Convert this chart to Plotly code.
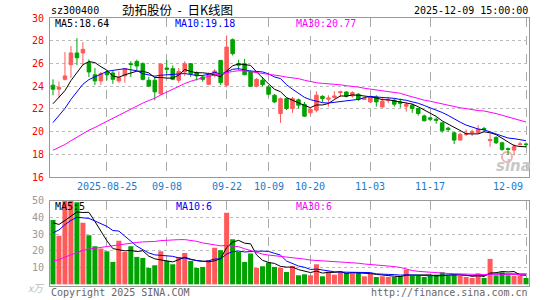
import pandas as pd
import plotly.graph_objects as go

# ---------------- data ----------------
holiday = pd.date_range("2025-10-01", "2025-10-08")
dates = [d.strftime("%Y-%m-%d") for d in pd.bdate_range("2025-08-12", "2025-12-09") if d not in holiday]

open_ = [24.08, 23.73, 24.6, 25.89, 26.92, 26.92, 26.07, 25.0, 24.46, 25.25,
         25.16, 24.46, 24.9, 25.98, 26.18, 25.98, 24.52, 24.52, 23.32, 25.6,
         25.54, 24.52, 25.25, 25.98, 25.19, 24.81, 24.16, 25.0, 26.27, 24.08,
         28.09, 25.98, 25.98, 25.25, 23.99, 24.52, 23.93, 23.2, 21.59, 22.9,
         22.03, 22.8, 22.4, 21.65, 21.88, 23.1, 22.85, 23.0, 23.43, 23.49,
         23.14, 23.29, 22.82, 22.61, 23.05, 22.17, 22.73, 22.76, 22.6, 22.23,
         22.32, 22.03, 21.38, 21.21, 21.09, 20.77, 20.3, 19.89, 19.25, 19.75,
         19.9, 19.92, 20.27, 19.2, 19.48, 19.01, 18.5, 18.37, 18.87, 18.9]
close = [23.73, 23.9, 24.9, 26.92, 26.5, 27.24, 25.25, 24.46, 25.1, 25.0,
         24.6, 24.75, 25.55, 25.9, 25.77, 24.6, 24.0, 23.5, 25.95, 25.48,
         24.6, 25.3, 25.98, 25.1, 24.9, 24.6, 25.0, 25.33, 24.31, 27.44,
         26.86, 25.85, 25.0, 23.99, 24.6, 24.13, 23.29, 22.61, 22.9, 22.03,
         22.9, 22.32, 21.36, 21.94, 23.2, 22.9, 22.95, 23.14, 23.5, 23.11,
         23.43, 22.82, 22.9, 23.05, 22.61, 22.67, 22.76, 22.41, 22.5, 22.4,
         22.03, 21.59, 20.95, 21.09, 21.0, 20.07, 20.18, 19.25, 19.75, 19.8,
         19.98, 20.2, 20.18, 19.3, 19.01, 18.43, 18.43, 18.66, 18.9, 18.87]
high = [24.6, 24.4, 27.0, 27.53, 28.23, 27.88, 26.35, 25.6, 25.25, 25.4,
        25.4, 25.3, 25.6, 26.2, 26.33, 26.1, 24.81, 24.81, 26.0, 26.3,
        25.83, 25.6, 26.2, 26.0, 25.3, 24.95, 25.2, 25.5, 26.27, 28.47,
        28.2, 26.33, 26.4, 25.4, 24.7, 24.8, 24.1, 23.3, 23.0, 23.0,
        23.05, 22.9, 22.6, 22.1, 23.55, 23.2, 23.2, 23.55, 23.6, 23.55,
        23.55, 23.4, 23.0, 23.15, 23.2, 23.05, 23.05, 22.9, 22.9, 22.6,
        22.47, 22.1, 21.5, 21.3, 21.24, 20.8, 20.42, 19.95, 19.9, 20.18,
        20.18, 20.56, 20.42, 19.83, 19.6, 19.1, 18.6, 18.9, 19.1, 19.04]
low = [23.2, 22.97, 24.5, 24.72, 25.84, 25.84, 24.8, 24.1, 24.1, 24.5,
       24.2, 24.3, 24.3, 24.8, 25.4, 24.5, 23.93, 22.76, 23.2, 25.1,
       24.52, 24.3, 24.9, 24.81, 24.5, 24.4, 24.1, 24.8, 24.1, 23.9,
       26.7, 25.4, 24.96, 23.93, 23.9, 23.99, 23.2, 22.5, 20.77, 21.9,
       21.65, 22.03, 21.3, 21.5, 21.7, 22.6, 22.2, 22.9, 23.05, 23.0,
       23.0, 22.7, 22.8, 22.5, 22.2, 22.1, 22.5, 22.2, 22.1, 21.75,
       21.65, 21.4, 20.9, 20.9, 20.7, 19.9, 19.98, 18.9, 19.2, 19.6,
       19.6, 19.8, 19.98, 18.66, 18.9, 18.3, 17.93, 17.9, 18.8, 18.6]
volume = [38.4, 29.0, 50.0, 50.0, 49.0, 36.8, 29.4, 22.8, 21.4, 19.8,
          13.4, 26.0, 19.4, 22.8, 16.4, 15.8, 9.8, 11.4, 19.8, 14.0,
          12.0, 16.4, 18.8, 14.0, 9.8, 10.4, 14.4, 21.8, 20.4, 42.8,
          27.0, 19.4, 13.4, 18.4, 9.8, 10.8, 13.0, 10.4, 9.8, 7.4,
          11.0, 5.4, 6.0, 5.4, 12.0, 4.8, 7.6, 5.8, 7.8, 6.8,
          7.1, 7.1, 4.8, 6.3, 4.4, 4.8, 4.4, 4.4, 5.0, 8.8,
          5.0, 5.0, 4.4, 5.0, 5.8, 7.2, 5.0, 5.8, 5.0, 4.4,
          3.8, 6.6, 3.8, 15.2, 5.4, 7.2, 5.4, 5.0, 5.4, 3.8]

# closes / volumes of the 29 sessions before the window (estimated from MA lines)
prev_close = [16.9, 17.0, 16.8, 17.1, 17.0, 17.2, 17.1, 16.9, 17.0, 17.2,
              17.1, 17.3, 17.2, 17.0, 17.2, 17.3, 17.4, 17.3, 17.4, 17.5,
              17.8, 18.5, 19.0, 19.8, 20.6, 21.2, 21.8, 22.5, 23.0]
prev_volume = [5, 6, 5, 4, 6, 5, 7, 6, 5, 6, 5, 4, 6, 5, 6, 7, 6, 5, 6, 7,
               12, 18, 25, 30, 39, 34, 38, 36, 37.6]

tick_dates = ["2025-08-25", "2025-09-08", "2025-09-22", "2025-10-09", "2025-10-20",
              "2025-11-03", "2025-11-17", "2025-12-09"]
tick_text = ["2025-08-25", "09-08", "09-22", "10-09", "10-20", "11-03", "11-17", "12-09"]

price_ticks = [16, 18, 20, 22, 24, 26, 28, 30]
vol_ticks = [10, 20, 30, 40, 50]

title_text = "劲拓股份&nbsp;&nbsp;-&nbsp;&nbsp;日K线图"
code_text = "sz300400"
time_text = "2025-12-09 15:00:00"
price_ma_text = ["MA5:18.64", "MA10:19.18", "MA30:20.77"]
vol_ma_text = ["MA5:5", "MA10:6", "MA30:6"]

# ---------------- derived ----------------
RED = "#FF5A5A"
GREEN = "#00A300"
MA_COLORS = ["#000000", "#0000FF", "#FF00FF"]
MONO = "DejaVu Sans Mono"

n = len(dates)
cs = pd.Series(prev_close + close)
vs = pd.Series(prev_volume + volume)
k = len(prev_close)
pma = [cs.rolling(w).mean().iloc[k:].tolist() for w in (5, 10, 30)]
vma = [vs.rolling(w).mean().iloc[k:].tolist() for w in (5, 10, 30)]
vol_colors = [RED if c >= o else GREEN for o, c in zip(open_, close)]

fig = go.Figure()
fig.add_trace(go.Candlestick(
    x=dates, open=open_, high=high, low=low, close=close,
    increasing=dict(line=dict(color=RED, width=1), fillcolor=RED),
    decreasing=dict(line=dict(color=GREEN, width=1), fillcolor=GREEN),
    whiskerwidth=0, xaxis="x", yaxis="y", showlegend=False, hoverinfo="skip"))
for m, col in zip(pma, MA_COLORS):
    fig.add_trace(go.Scatter(x=dates, y=m, mode="lines", line=dict(color=col, width=1),
                             xaxis="x", yaxis="y", showlegend=False, hoverinfo="skip"))
fig.add_trace(go.Bar(x=dates, y=volume, marker=dict(color=vol_colors, line=dict(width=0)),
                     width=0.84, xaxis="x2", yaxis="y2", showlegend=False, hoverinfo="skip"))
for m, col in zip(vma, MA_COLORS):
    fig.add_trace(go.Scatter(x=dates, y=m, mode="lines", line=dict(color=col, width=1),
                             xaxis="x2", yaxis="y2", showlegend=False, hoverinfo="skip"))

# geometry (pixels)
W, H = 545, 300
L, R, T, B = 50, 529, 18, 286
pw, ph = R - L, B - T


def px(x):
    return (x - L) / pw


def py(y):
    return (B - y) / ph


axis_common = dict(type="category", range=[-0.5, n - 0.5], tickvals=tick_dates,
                   showticklabels=False, automargin=False,
                   showline=True, mirror=True, linecolor="#999999", linewidth=1,
                   showgrid=True, gridcolor="#AAAAAA", griddash="dash", gridwidth=1,
                   zeroline=False, fixedrange=True)

fig.update_layout(
    width=W, height=H, autosize=False,
    margin=dict(l=L, r=W - R, t=T, b=H - B, pad=0, autoexpand=False),
    paper_bgcolor="white", plot_bgcolor="white",
    boxgap=0.16, bargap=0.16, showlegend=False,
    xaxis=dict(axis_common, domain=[0, 1], anchor="y", rangeslider=dict(visible=False)),
    yaxis=dict(domain=[py(177), 1], range=[16, 30], tickvals=price_ticks, automargin=False,
               showline=True, mirror=True, linecolor="#999999", linewidth=1,
               showgrid=True, gridcolor="#BBBBBB", griddash="dot", zeroline=False,
               ticks="outside", ticklen=3, tickcolor="rgba(0,0,0,0)",
               tickfont=dict(family=MONO, size=10, color="#FF0000"), fixedrange=True),
    xaxis2=dict(axis_common, domain=[0, 1], anchor="y2", matches="x"),
    yaxis2=dict(domain=[0, py(200.7)], range=[-1, 50], tickvals=vol_ticks, automargin=False,
                showline=True, mirror=True, linecolor="#999999", linewidth=1,
                showgrid=True, gridcolor="#BBBBBB", griddash="dot", zeroline=False,
                ticks="outside", ticklen=3, tickcolor="rgba(0,0,0,0)",
                tickfont=dict(family=MONO, size=10, color="#999999"), fixedrange=True),
)


def note(text, x, y, color="#000000", anchor="left", size=10, family=MONO, **kw):
    fig.add_annotation(text=text, x=px(x), y=py(y), xref="paper", yref="paper",
                       xanchor=anchor, yanchor="middle", showarrow=False,
                       font=dict(family=family, size=size, color=color), **kw)


# date labels placed on the category axis
for i, (d, t) in enumerate(zip(tick_dates, tick_text)):
    last = i == len(tick_dates) - 1
    fig.add_annotation(text=t, x=d, y=py(186), xref="x", yref="paper",
                       xanchor="right" if last else "center", yanchor="middle",
                       xshift=-1 if last else 0, showarrow=False,
                       font=dict(family=MONO, size=10, color="#1A7ACB"))

note(code_text, 49, 10.5)
note(title_text, 177.5, 9.5, anchor="center", size=12.5, family="Noto Sans CJK SC")
note(time_text, 530, 11, anchor="right")
for t, x, c in zip(price_ma_text, (53, 173, 294), MA_COLORS):
    note(t, x, 24, color=c)
for t, x, c in zip(vol_ma_text, (53, 174, 294), MA_COLORS):
    note(t, x, 206, color=c)
note("Copyright 2025 SINA.COM", 49, 292.5, color="#666666")
note("http://finance.sina.com.cn", 530, 292.5, color="#666666", anchor="right")
note("<i>x万</i>", 36, 287, color="#BBBBBB", anchor="center", size=10, family="Noto Sans CJK SC")
note("<b><i>sina</i></b>", 513, 166, color="#C8C8C8", anchor="center", size=15, family="DejaVu Sans")

# faint sina eye logo above the watermark text
fig.add_shape(type="circle", xref="paper", yref="paper",
              x0=px(502), x1=px(512), y0=py(162), y1=py(152),
              line=dict(color="#F2B0B0", width=2), fillcolor="rgba(0,0,0,0)", layer="below")

fig.write_html("out.html")
